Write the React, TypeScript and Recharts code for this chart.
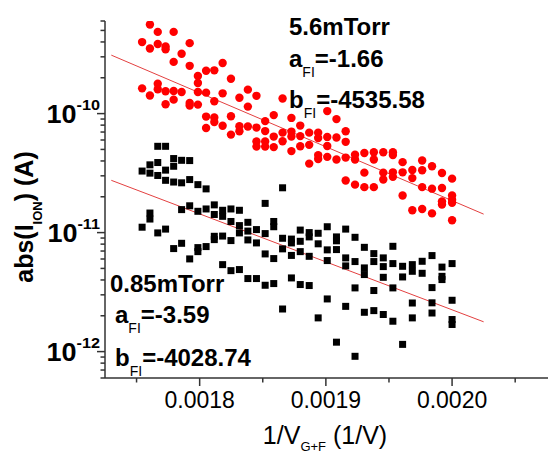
import { Customized, Scatter, ScatterChart, XAxis, YAxis } from "recharts"

const FONT = "'Liberation Sans', Arial, Helvetica, sans-serif"

// 1/V columns (V from 570 V down to 500 V)
const invVoltage = [
  0.0017544, 0.0017606, 0.0017668, 0.001773, 0.0017794, 0.0017857, 0.0017921, 0.0017986, 0.0018051,
  0.0018116, 0.0018182, 0.0018248, 0.0018315, 0.0018382, 0.001845, 0.0018519, 0.0018587, 0.0018657,
  0.0018727, 0.0018797, 0.0018868, 0.0018939, 0.0019011, 0.0019084, 0.0019157, 0.0019231, 0.0019305,
  0.001938, 0.0019455, 0.0019531, 0.0019608, 0.0019685, 0.0019763, 0.0019841, 0.001992, 0.002,
]

// 5.6 mTorr, one list per column
const redCurrent: number[][] = [
  [3.99e-10, 1.63e-10],
  [5.6e-10, 3.52e-10, 1.42e-10],
  [4.86e-10, 3.85e-10, 1.78e-10, 1.6e-10],
  [3.66e-10, 3.47e-10, 1.54e-10, 1.2e-10],
  [4.86e-10, 2.72e-10, 1.55e-10, 1.31e-10],
  [3.18e-10, 1.52e-10],
  [3.91e-10, 2.52e-10, 1.23e-10, 1.17e-10],
  [2.07e-10, 1.81e-10, 1.52e-10, 1.19e-10],
  [2.29e-10, 1.5e-10, 9.44e-11, 7.56e-11],
  [2.31e-10, 1.27e-10, 9.26e-11, 8.48e-11],
  [2.66e-10, 1.48e-10, 7.9e-11],
  [1.96e-10, 9.49e-11, 6.66e-11],
  [1.36e-10, 7.82e-11, 7.1e-11],
  [1.59e-10, 1.145e-10, 7.78e-11],
  [1.41e-10, 7.63e-11, 5.82e-11, 5.28e-11],
  [8.65e-11, 7.13e-11, 5.82e-11, 5.28e-11],
  [9.71e-11, 6.41e-11, 5.23e-11],
  [1.34e-10, 6.92e-11, 5.85e-11],
  [9.2e-11, 7.06e-11, 6.41e-11, 4.84e-11],
  [7.93e-11, 6.47e-11, 5.31e-11],
  [6.92e-11, 5.46e-11, 3.8e-11],
  [6.92e-11, 6.23e-11, 4.48e-11, 4.15e-11],
  [1.05e-10, 6.37e-11, 5.35e-11, 4.33e-11],
  [8.99e-11, 6.29e-11, 4.11e-11],
  [7.1e-11, 5.79e-11, 4.27e-11, 2.74e-11],
  [4.52e-11, 4.11e-11, 2.53e-11],
  [4.67e-11, 3.19e-11, 2.41e-11],
  [4.73e-11, 4.11e-11, 2.41e-11],
  [4.73e-11, 3.19e-11, 2.79e-11],
  [4.73e-11, 4.48e-11, 3.21e-11, 2.94e-11],
  [3.91e-11, 3.21e-11, 2.05e-11],
  [3.36e-11, 2.87e-11, 1.54e-11],
  [4.03e-11, 3.34e-11, 2.41e-11, 1.58e-11],
  [3.61e-11, 2.34e-11, 1.45e-11],
  [3.17e-11, 2.37e-11, 1.83e-11, 1.72e-11],
  [2.84e-11, 2.05e-11, 1.89e-11, 1.78e-11, 1.27e-11],
]

// 0.85 mTorr, one list per column
const blackCurrent: number[][] = [
  [3.29e-11, 1.11e-11],
  [3.71e-11, 3.16e-11, 1.46e-11, 1.3e-11],
  [5.31e-11, 3.88e-11, 3.02e-11, 9.94e-12],
  [5.31e-11, 3.35e-11, 2.75e-11, 1.07e-11],
  [4.19e-11, 3.61e-11, 2.66e-11, 7.34e-12],
  [4.05e-11, 2.62e-11, 1.56e-11, 8.13e-12],
  [4.03e-11, 2.79e-11, 1.68e-11, 6.01e-12],
  [2.53e-11, 1.51e-11, 7.48e-12, 6.92e-12],
  [2.33e-11, 1.58e-11, 7.63e-12],
  [1.71e-11, 1.42e-11, 9.31e-12, 8.73e-12],
  [1.54e-11, 1.37e-11, 9.35e-12, 5.38e-12],
  [1.58e-11, 1.24e-11, 8.57e-12, 4.79e-12],
  [1.54e-11, 1.145e-11, 9.94e-12, 4.89e-12],
  [1.22e-11, 1.03e-11, 8.68e-12, 4.11e-12],
  [1.06e-11, 8.19e-12, 4.11e-12],
  [1.76e-11, 9.81e-12, 6.62e-12, 3.61e-12],
  [1.24e-11, 1.12e-11, 6.05e-12, 3.73e-12],
  [2.38e-11, 8.96e-12, 7.3e-12, 2.28e-12],
  [8.82e-12, 8.19e-12, 6.43e-12, 4.16e-12],
  [1.05e-11, 8.45e-12, 6.92e-12, 3.66e-12],
  [1.0e-11, 9.2e-12, 6.32e-12, 3.59e-12],
  [9.87e-12, 8.05e-12, 1.92e-12],
  [1.12e-11, 7.16e-12, 5.82e-12, 2.77e-12],
  [9.2e-12, 8.53e-12, 7.2e-12, 1.2e-12],
  [1.07e-11, 6.13e-12, 5.25e-12, 2.4e-12],
  [9.13e-12, 5.71e-12, 3.43e-12, 9.13e-13],
  [7.52e-12, 5.05e-12, 4.44e-12, 2.14e-12],
  [6.66e-12, 5.71e-12, 3.26e-12, 2.21e-12],
  [6.13e-12, 5.18e-12, 4.21e-12, 2.05e-12],
  [7.67e-12, 5.49e-12, 3.43e-12, 1.8e-12],
  [5.21e-12, 4.24e-12, 1.15e-12],
  [5.38e-12, 4.73e-12, 2.56e-12, 1.92e-12],
  [5.74e-12, 4.55e-12],
  [6.41e-12, 3.45e-12, 2.57e-12, 2.11e-12],
  [5.13e-12, 4.29e-12, 4.03e-12],
  [5.49e-12, 2.7e-12, 1.86e-12, 1.69e-12],
]

// fit line end points
const fitX = [0.00173, 0.002025]
const redFitY = [3.1e-10, 1.43e-11]
const blackFitY = [2.75e-11, 1.78e-12]

const xMajorTicks = [0.0018, 0.0019, 0.002]
const xTicks = [0.00175, 0.0018, 0.00185, 0.0019, 0.00195, 0.002, 0.00205]
const yMajorTicks = [1e-12, 1e-11, 1e-10]
const yMajorExponents = ["-12", "-11", "-10"]
const yTicks = [
  6e-13, 7e-13, 8e-13, 9e-13, 1e-12, 2e-12, 3e-12, 4e-12, 5e-12, 6e-12, 7e-12, 8e-12, 9e-12, 1e-11,
  2e-11, 3e-11, 4e-11, 5e-11, 6e-11, 7e-11, 8e-11, 9e-11, 1e-10, 2e-10, 3e-10, 4e-10, 5e-10, 6e-10,
]

const high = { pressure: "5.6mTorr", a: "=-1.66", b: "=-4535.58" }
const low = { pressure: "0.85mTorr", a: "=-3.59", b: "=-4028.74" }

const toPoints = (cols: number[][]) =>
  cols.flatMap((vals, i) => vals.map((y) => ({ x: invVoltage[i], y })))

const redPoints = toPoints(redCurrent)
const blackPoints = toPoints(blackCurrent)
const redFit = fitX.map((x, i) => ({ x, y: redFitY[i] }))
const blackFit = fitX.map((x, i) => ({ x, y: blackFitY[i] }))

const AXIS = "#333"

function YTick(props: any) {
  const { x, y, payload } = props
  const idx = yMajorTicks.findIndex((t) => Math.abs(t - payload.value) / t < 1e-6)
  const major = idx >= 0
  return (
    <g>
      <line x1={x - (major ? 8 : 4.5)} y1={y} x2={x} y2={y} stroke={AXIS} strokeWidth={1.5} />
      {major && (
        <text
          transform={`translate(${x - 5},${y + 9}) scale(1.08,1)`}
          textAnchor="end"
          fontFamily={FONT}
          fontWeight="bold"
          fill="#000"
        >
          <tspan fontSize={25}>10</tspan>
          <tspan fontSize={15} dy={-13}>
            {yMajorExponents[idx]}
          </tspan>
        </text>
      )}
    </g>
  )
}

function XTick(props: any) {
  const { x, y, payload } = props
  const v = payload.value as number
  const major = xMajorTicks.some((t) => Math.abs(t - v) < 1e-9)
  return (
    <g>
      <line x1={x} y1={y} x2={x} y2={y + (major ? 8 : 4.5)} stroke={AXIS} strokeWidth={1.5} />
      {major && (
        <text x={x} y={y + 30} textAnchor="middle" fontSize={23} fontFamily={FONT} fill="#000">
          {v.toFixed(4)}
        </text>
      )}
    </g>
  )
}

function FitLabel({ x, y, name, value }: { x: number; y: number; name: string; value: string }) {
  return (
    <text x={x} y={y} fontSize={24} fontWeight="bold">
      {name}
      <tspan fontSize={14} fontWeight="normal" dy={10}>
        FI
      </tspan>
      <tspan dy={-10}>{value}</tspan>
    </text>
  )
}

function Annotations() {
  return (
    <g fontFamily={FONT} fill="#000">
      <text x={289} y={35} fontSize={24} fontWeight="bold">
        {high.pressure}
      </text>
      <FitLabel x={289} y={67} name="a" value={high.a} />
      <FitLabel x={289} y={108} name="b" value={high.b} />

      <text x={110} y={292} fontSize={24} fontWeight="bold">
        {low.pressure}
      </text>
      <FitLabel x={115} y={323} name="a" value={low.a} />
      <FitLabel x={115} y={366} name="b" value={low.b} />

      <text transform="translate(33,217) rotate(-90)" textAnchor="middle" fontSize={25} fontWeight="bold">
        abs(I
        <tspan fontSize={13} dy={9}>
          ION
        </tspan>
        <tspan dy={-9}>) (A)</tspan>
      </text>

      <text x={325} y={444} textAnchor="middle" fontSize={25}>
        1/V
        <tspan fontSize={13} dy={7}>
          G+F
        </tspan>
        <tspan dy={-7}> (1/V)</tspan>
      </text>
    </g>
  )
}

const redDot = (p: any) => <circle cx={p.cx} cy={p.cy} r={4.2} fill="#ff0000" />
const blackSquare = (p: any) => <rect x={p.cx - 3.5} y={p.cy - 3.5} width={7} height={7} fill="#000" />
const noDot = () => <g />

export default function App() {
  return (
    <div style={{ position: "absolute", left: 0, top: 0, width: 548, height: 455, background: "#fff" }}>
      <ScatterChart width={548} height={455} margin={{ top: 21, right: 0, bottom: 0, left: 0 }}>
        <XAxis
          type="number"
          dataKey="x"
          domain={[0.001725, 0.002076]}
          allowDataOverflow
          ticks={xTicks}
          interval={0}
          height={77}
          tickSize={0}
          tickMargin={0}
          tick={<XTick />}
          axisLine={{ stroke: AXIS, strokeWidth: 1.5 }}
        />
        <YAxis
          type="number"
          dataKey="y"
          scale="log"
          domain={[6e-13, 6e-10]}
          allowDataOverflow
          ticks={yTicks}
          interval={0}
          width={105}
          tickSize={0}
          tickMargin={0}
          tick={<YTick />}
          axisLine={{ stroke: AXIS, strokeWidth: 1.5 }}
        />
        <Scatter data={redFit} shape={noDot} line={{ stroke: "#e34040", strokeWidth: 1 }} isAnimationActive={false} />
        <Scatter data={blackFit} shape={noDot} line={{ stroke: "#e34040", strokeWidth: 1 }} isAnimationActive={false} />
        <Scatter data={redPoints} shape={redDot} isAnimationActive={false} />
        <Scatter data={blackPoints} shape={blackSquare} isAnimationActive={false} />
        <Customized component={Annotations} />
      </ScatterChart>
    </div>
  )
}
